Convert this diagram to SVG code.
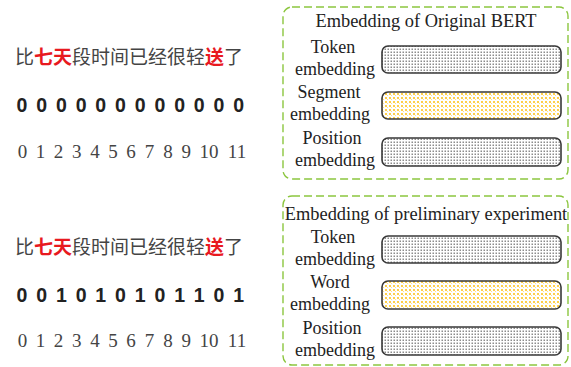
<svg xmlns="http://www.w3.org/2000/svg" width="571" height="367" viewBox="0 0 571 367">
<defs>
<pattern id="dotGray" width="3" height="3" patternUnits="userSpaceOnUse">
<rect width="3" height="3" fill="#fff"/>
<rect x="0.5" y="0.5" width="1.5" height="1.5" fill="#8c8c8c"/>
</pattern>
<pattern id="dotYellow" width="4" height="4" patternUnits="userSpaceOnUse">
<rect width="4" height="4" fill="#fff"/>
<rect x="1" y="1" width="2" height="2" fill="#ffcf4a"/>
<rect x="3" y="3" width="1" height="1" fill="#ffe08a"/>
</pattern>
<style>
.frame{fill:none;stroke:#8cc63f;stroke-width:1.4;stroke-dasharray:8 4}
.bar{stroke:#383838;stroke-width:1.6}
.g{fill:url(#dotGray)}
.y{fill:url(#dotYellow)}
.lbl{font-family:"Liberation Serif","Times New Roman",serif;font-size:18px;fill:#222;text-anchor:middle}
.ttl{font-family:"Liberation Serif","Times New Roman",serif;font-size:18.4px;fill:#222;text-anchor:middle}
.zh{font-family:"Noto Sans CJK SC",sans-serif;font-size:19px;fill:#444}
.red{fill:#e8191f;font-weight:bold}
.bd{font-family:"Liberation Sans",Arial,sans-serif;font-weight:bold;font-size:19.5px;fill:#222;text-anchor:middle}
.ix{font-family:"Liberation Serif","Times New Roman",serif;font-size:19px;fill:#444;text-anchor:middle}
</style>
</defs>

<g id="top-sentence">
<text class="zh" x="15" y="64">比<tspan class="red">七天</tspan>段时间已经很轻<tspan class="red">送</tspan>了</text>
<g class="bd">
<text x="22" y="112">0</text><text x="41.7" y="112">0</text><text x="61.4" y="112">0</text><text x="81.1" y="112">0</text><text x="100.8" y="112">0</text><text x="120.5" y="112">0</text><text x="140.2" y="112">0</text><text x="159.9" y="112">0</text><text x="179.6" y="112">0</text><text x="199.3" y="112">0</text><text x="219" y="112">0</text><text x="238.7" y="112">0</text>
</g>
<g class="ix">
<text x="22.5" y="158">0</text><text x="40.5" y="158">1</text><text x="58.5" y="158">2</text><text x="76.7" y="158">3</text><text x="95" y="158">4</text><text x="113" y="158">5</text><text x="131" y="158">6</text><text x="149.5" y="158">7</text><text x="168" y="158">8</text><text x="186.3" y="158">9</text><text x="209" y="158">10</text><text x="237" y="158">11</text>
</g>
</g>

<g id="top-frame">
<rect class="frame" x="283" y="7" width="285" height="172" rx="9"/>
<text class="ttl" x="426" y="27">Embedding of Original BERT</text>
<text class="lbl" x="333" y="53">Token</text>
<text class="lbl" x="335" y="75">embedding</text>
<text class="lbl" x="329" y="98">Segment</text>
<text class="lbl" x="330" y="120">embedding</text>
<text class="lbl" x="332" y="144">Position</text>
<text class="lbl" x="335" y="166">embedding</text>
<rect class="bar g" x="382" y="46" width="179" height="27" rx="6"/>
<rect class="bar y" x="382" y="92" width="179" height="27" rx="6"/>
<rect class="bar g" x="382" y="138" width="179" height="28" rx="6"/>
</g>

<g id="bottom-sentence">
<text class="zh" x="15" y="254">比<tspan class="red">七天</tspan>段时间已经很轻<tspan class="red">送</tspan>了</text>
<g class="bd">
<text x="22" y="302">0</text><text x="41.7" y="302">0</text><text x="61.4" y="302">1</text><text x="81.1" y="302">0</text><text x="100.8" y="302">1</text><text x="120.5" y="302">0</text><text x="140.2" y="302">1</text><text x="159.9" y="302">0</text><text x="179.6" y="302">1</text><text x="199.3" y="302">1</text><text x="219" y="302">0</text><text x="238.7" y="302">1</text>
</g>
<g class="ix">
<text x="22.5" y="347">0</text><text x="40.5" y="347">1</text><text x="58.5" y="347">2</text><text x="76.7" y="347">3</text><text x="95" y="347">4</text><text x="113" y="347">5</text><text x="131" y="347">6</text><text x="149.5" y="347">7</text><text x="168" y="347">8</text><text x="186.3" y="347">9</text><text x="209" y="347">10</text><text x="237" y="347">11</text>
</g>
</g>

<g id="bottom-frame">
<rect class="frame" x="283" y="196" width="285" height="169" rx="9"/>
<text class="ttl" x="426" y="220">Embedding of preliminary experiment</text>
<text class="lbl" x="333" y="243">Token</text>
<text class="lbl" x="335" y="265">embedding</text>
<text class="lbl" x="330" y="288">Word</text>
<text class="lbl" x="330" y="310">embedding</text>
<text class="lbl" x="332" y="334">Position</text>
<text class="lbl" x="335" y="356">embedding</text>
<rect class="bar g" x="382" y="236" width="179" height="27" rx="6"/>
<rect class="bar y" x="382" y="281" width="179" height="28" rx="6"/>
<rect class="bar g" x="382" y="327" width="179" height="28" rx="6"/>
</g>

<g id="connectors"></g>
</svg>
